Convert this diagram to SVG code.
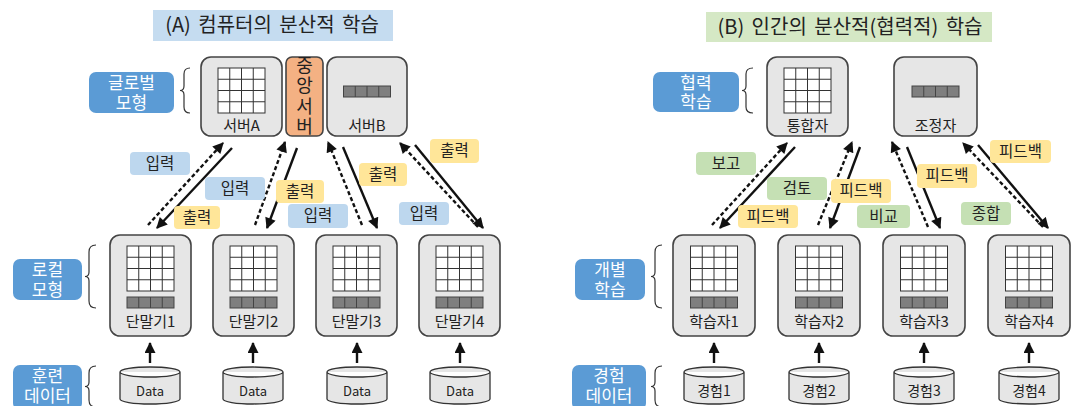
<svg xmlns="http://www.w3.org/2000/svg" width="1072" height="406" viewBox="0 0 1072 406">
<defs>
<style>
text{font-family:"Noto Sans CJK KR","Noto Sans",sans-serif;fill:#222;text-anchor:middle}
.node{fill:#e6e6e6;stroke:#444;stroke-width:1.6}
.grid{fill:#fff;stroke:#333;stroke-width:1}
.bar{fill:#7f7f7f;stroke:#444;stroke-width:1}
.lbl{font-size:15px}
.side{fill:#5b9bd5;stroke:none}
.sidet{fill:#fff;font-size:17px}
.brace{fill:none;stroke:#333;stroke-width:1.2}
.cyl{fill:#e6e6e6;stroke:#333;stroke-width:1.3}
.blue{fill:#bdd7ee}
.yel{fill:#ffe699}
.grn{fill:#c5e0b4}
.ct{font-size:15.5px}
.ttl{font-size:20px;word-spacing:3px}
.sol{stroke:#111;stroke-width:2.4;fill:none;marker-end:url(#ah)}
.dsh{stroke:#111;stroke-width:2.4;fill:none;stroke-dasharray:4 2.5;marker-end:url(#ah)}
.up{stroke:#111;stroke-width:2.4;fill:none;marker-end:url(#ah)}
</style>
<marker id="ah" viewBox="0 0 10 10" refX="9" refY="5" markerUnits="userSpaceOnUse" markerWidth="12" markerHeight="11" orient="auto">
<path d="M0,0 L10,5 L0,10 z" fill="#111"/>
</marker>
<g id="g4">
<rect class="grid" x="0" y="0" width="47" height="45"/>
<path d="M11.75,0V45M23.5,0V45M35.25,0V45M0,11.25H47M0,22.5H47M0,33.75H47" stroke="#333" stroke-width="1"/>
</g>
<g id="b4">
<rect class="bar" x="0" y="0" width="47" height="11"/>
<path d="M11.75,0V11M23.5,0V11M35.25,0V11" stroke="#444" stroke-width="1"/>
</g>
</defs>
<rect width="1072" height="406" fill="#fff"/>

<!-- Titles -->
<g id="titleA">
<rect x="153" y="10" width="240" height="31" fill="#c5dcf0"/>
<text class="ttl" x="272" y="32">(A) 컴퓨터의 분산적 학습</text>
</g>
<g id="titleB">
<rect x="706" y="12" width="286" height="30" fill="#d5e8c5"/>
<text class="ttl" x="850" y="34">(B) 인간의 분산적(협력적) 학습</text>
</g>

<!-- Side labels -->
<g id="lbl-global">
<rect class="side" x="89" y="72" width="85" height="41" rx="7"/>
<text class="sidet" x="131.5" y="89">글로벌<tspan x="131.5" dy="20">모형</tspan></text>
<path class="brace" d="M190,68 Q184,68 184,74 L184,86 Q184,90.5 180,90.5 Q184,90.5 184,95 L184,107 Q184,113 190,113"/>
</g>
<g id="lbl-local">
<rect class="side" x="13" y="259" width="69" height="41" rx="7"/>
<text class="sidet" x="47.5" y="276">로컬<tspan x="47.5" dy="20">모형</tspan></text>
<path class="brace" d="M96,245 Q89,245 89,252 L89,272 Q89,276.5 85,276.5 Q89,276.5 89,281 L89,301 Q89,308 96,308"/>
</g>
<g id="lbl-train">
<rect class="side" x="13" y="365" width="69" height="45" rx="7"/>
<text class="sidet" x="47.5" y="382">훈련<tspan x="47.5" dy="20">데이터</tspan></text>
<path class="brace" d="M96,366 Q89,366 89,373 L89,382 Q89,386.5 85,386.5 Q89,386.5 89,391 L89,400 Q89,407 96,407"/>
</g>
<g id="lbl-coop">
<rect class="side" x="653" y="72" width="86" height="40" rx="7"/>
<text class="sidet" x="696" y="89">협력<tspan x="696" dy="19">학습</tspan></text>
<path class="brace" d="M753,68 Q746,68 746,74 L746,86 Q746,90.5 742,90.5 Q746,90.5 746,95 L746,107 Q746,113 753,113"/>
</g>
<g id="lbl-indiv">
<rect class="side" x="575" y="259" width="70" height="41" rx="7"/>
<text class="sidet" x="610" y="276">개별<tspan x="610" dy="20">학습</tspan></text>
<path class="brace" d="M662,245 Q655,245 655,252 L655,272 Q655,276.5 651,276.5 Q655,276.5 655,281 L655,301 Q655,308 662,308"/>
</g>
<g id="lbl-exp">
<rect class="side" x="572" y="365" width="74" height="45" rx="7"/>
<text class="sidet" x="609" y="382">경험<tspan x="609" dy="20">데이터</tspan></text>
<path class="brace" d="M662,366 Q655,366 655,373 L655,382 Q655,386.5 651,386.5 Q655,386.5 655,391 L655,400 Q655,407 662,407"/>
</g>

<!-- Top nodes -->
<g id="serverA">
<rect class="node" x="201" y="57" width="81" height="79" rx="10"/>
<use href="#g4" x="218" y="68"/>
<text class="lbl" x="241.5" y="131">서버A</text>
</g>
<g id="central">
<rect x="286" y="57" width="37" height="79" rx="6" fill="#f4b183" stroke="#444" stroke-width="1.6"/>
<text x="304.5" y="97" font-size="18" writing-mode="vertical-rl" letter-spacing="2.5">중앙서버</text>
</g>
<g id="serverB">
<rect class="node" x="327" y="57" width="80" height="79" rx="10"/>
<use href="#b4" x="343.5" y="86"/>
<text class="lbl" x="367" y="131">서버B</text>
</g>
<g id="integrator">
<rect class="node" x="767" y="57" width="81" height="79" rx="10"/>
<use href="#g4" x="784" y="68"/>
<text class="lbl" x="807.5" y="131">통합자</text>
</g>
<g id="coordinator">
<rect class="node" x="894" y="57" width="83" height="79" rx="10"/>
<use href="#b4" x="912" y="86"/>
<text class="lbl" x="935.5" y="131">조정자</text>
</g>

<!-- Terminals -->
<g id="term1">
<rect class="node" x="110" y="235" width="81" height="101" rx="10"/>
<use href="#g4" x="127" y="246"/>
<use href="#b4" x="127" y="297"/>
<text class="lbl" x="150.5" y="327">단말기1</text>
</g>
<g id="term2">
<rect class="node" x="213" y="235" width="81" height="101" rx="10"/>
<use href="#g4" x="230" y="246"/>
<use href="#b4" x="230" y="297"/>
<text class="lbl" x="253.5" y="327">단말기2</text>
</g>
<g id="term3">
<rect class="node" x="316" y="235" width="81" height="101" rx="10"/>
<use href="#g4" x="333" y="246"/>
<use href="#b4" x="333" y="297"/>
<text class="lbl" x="356.5" y="327">단말기3</text>
</g>
<g id="term4">
<rect class="node" x="419" y="235" width="81" height="101" rx="10"/>
<use href="#g4" x="436" y="246"/>
<use href="#b4" x="436" y="297"/>
<text class="lbl" x="459.5" y="327">단말기4</text>
</g>

<!-- Learners -->
<g id="learner1">
<rect class="node" x="673" y="235" width="82" height="101" rx="10"/>
<use href="#g4" x="690.5" y="246"/>
<use href="#b4" x="690.5" y="297"/>
<text class="lbl" x="714" y="327">학습자1</text>
</g>
<g id="learner2">
<rect class="node" x="778" y="235" width="82" height="101" rx="10"/>
<use href="#g4" x="795.5" y="246"/>
<use href="#b4" x="795.5" y="297"/>
<text class="lbl" x="819" y="327">학습자2</text>
</g>
<g id="learner3">
<rect class="node" x="883" y="235" width="82" height="101" rx="10"/>
<use href="#g4" x="900.5" y="246"/>
<use href="#b4" x="900.5" y="297"/>
<text class="lbl" x="924" y="327">학습자3</text>
</g>
<g id="learner4">
<rect class="node" x="988" y="235" width="82" height="101" rx="10"/>
<use href="#g4" x="1005.5" y="246"/>
<use href="#b4" x="1005.5" y="297"/>
<text class="lbl" x="1029" y="327">학습자4</text>
</g>

<!-- Data cylinders -->
<g id="data1"><path class="cyl" d="M120,372 A30,5 0 0 1 180,372 V399 A30,5 0 0 1 120,399 Z M120,372 A30,5 0 0 0 180,372"/><text x="150" y="396" font-size="13">Data</text></g>
<g id="data2"><path class="cyl" d="M223,372 A30,5 0 0 1 283,372 V399 A30,5 0 0 1 223,399 Z M223,372 A30,5 0 0 0 283,372"/><text x="253" y="396" font-size="13">Data</text></g>
<g id="data3"><path class="cyl" d="M327,372 A30,5 0 0 1 387,372 V399 A30,5 0 0 1 327,399 Z M327,372 A30,5 0 0 0 387,372"/><text x="357" y="396" font-size="13">Data</text></g>
<g id="data4"><path class="cyl" d="M430,372 A30,5 0 0 1 490,372 V399 A30,5 0 0 1 430,399 Z M430,372 A30,5 0 0 0 490,372"/><text x="460" y="396" font-size="13">Data</text></g>
<g id="exp1"><path class="cyl" d="M684,372 A30,5 0 0 1 744,372 V399 A30,5 0 0 1 684,399 Z M684,372 A30,5 0 0 0 744,372"/><text x="714" y="396" font-size="14">경험1</text></g>
<g id="exp2"><path class="cyl" d="M789,372 A30,5 0 0 1 849,372 V399 A30,5 0 0 1 789,399 Z M789,372 A30,5 0 0 0 849,372"/><text x="819" y="396" font-size="14">경험2</text></g>
<g id="exp3"><path class="cyl" d="M894,372 A30,5 0 0 1 954,372 V399 A30,5 0 0 1 894,399 Z M894,372 A30,5 0 0 0 954,372"/><text x="924" y="396" font-size="14">경험3</text></g>
<g id="exp4"><path class="cyl" d="M999,372 A30,5 0 0 1 1059,372 V399 A30,5 0 0 1 999,399 Z M999,372 A30,5 0 0 0 1059,372"/><text x="1029" y="396" font-size="14">경험4</text></g>

<!-- Connectors -->
<g id="connectors">
<line class="dsh" x1="148" y1="225" x2="223" y2="143"/>
<line class="sol" x1="232" y1="148" x2="157" y2="228"/>
<line class="dsh" x1="255" y1="225" x2="285" y2="142"/>
<line class="sol" x1="297" y1="148" x2="267" y2="228"/>
<line class="dsh" x1="362" y1="225" x2="328" y2="142"/>
<line class="sol" x1="343" y1="147" x2="377" y2="228"/>
<line class="dsh" x1="478" y1="227" x2="400" y2="143"/>
<line class="sol" x1="415" y1="145" x2="483" y2="228"/>

<line class="dsh" x1="712" y1="225" x2="787" y2="143"/>
<line class="sol" x1="795" y1="147" x2="720" y2="228"/>
<line class="dsh" x1="818" y1="225" x2="852" y2="142"/>
<line class="sol" x1="860" y1="147" x2="830" y2="228"/>
<line class="dsh" x1="928" y1="227" x2="892" y2="142"/>
<line class="sol" x1="907" y1="147" x2="940" y2="228"/>
<line class="dsh" x1="1043" y1="227" x2="963" y2="143"/>
<line class="sol" x1="978" y1="145" x2="1048" y2="228"/>

<line class="up" x1="150" y1="363" x2="150" y2="343"/>
<line class="up" x1="253" y1="363" x2="253" y2="343"/>
<line class="up" x1="357" y1="363" x2="357" y2="343"/>
<line class="up" x1="460" y1="363" x2="460" y2="343"/>
<line class="up" x1="714" y1="363" x2="714" y2="343"/>
<line class="up" x1="819" y1="363" x2="819" y2="343"/>
<line class="up" x1="924" y1="363" x2="924" y2="343"/>
<line class="up" x1="1029" y1="363" x2="1029" y2="343"/>

<!-- connector labels -->
<rect class="blue" x="130" y="152" width="60" height="23" rx="4"/><text class="ct" x="160" y="169">입력</text>
<rect class="blue" x="205" y="177" width="60" height="23" rx="4"/><text class="ct" x="235" y="194">입력</text>
<rect class="yel" x="174" y="206" width="46" height="23" rx="4"/><text class="ct" x="197" y="223">출력</text>
<rect class="yel" x="276" y="180" width="48" height="23" rx="4"/><text class="ct" x="300" y="197">출력</text>
<rect class="blue" x="288" y="204" width="60" height="24" rx="4"/><text class="ct" x="318" y="221">입력</text>
<rect class="yel" x="359" y="163" width="48" height="23" rx="4"/><text class="ct" x="383" y="180">출력</text>
<rect class="yel" x="430" y="139" width="49" height="24" rx="4"/><text class="ct" x="454.5" y="156">출력</text>
<rect class="blue" x="399" y="202" width="50" height="23" rx="4"/><text class="ct" x="424" y="219">입력</text>

<rect class="grn" x="696" y="152" width="60" height="23" rx="4"/><text class="ct" x="726" y="169">보고</text>
<rect class="grn" x="767" y="177" width="60" height="23" rx="4"/><text class="ct" x="797" y="194">검토</text>
<rect class="yel" x="738" y="205" width="60" height="23" rx="4"/><text class="ct" x="768" y="222">피드백</text>
<rect class="yel" x="831" y="179" width="60" height="24" rx="4"/><text class="ct" x="861" y="196">피드백</text>
<rect class="grn" x="857" y="205" width="53" height="23" rx="4"/><text class="ct" x="883.5" y="222">비교</text>
<rect class="yel" x="917" y="164" width="60" height="24" rx="4"/><text class="ct" x="947" y="181">피드백</text>
<rect class="yel" x="990" y="140" width="61" height="23" rx="4"/><text class="ct" x="1020.5" y="157">피드백</text>
<rect class="grn" x="961" y="202" width="50" height="23" rx="4"/><text class="ct" x="986" y="219">종합</text>
</g>
</svg>
